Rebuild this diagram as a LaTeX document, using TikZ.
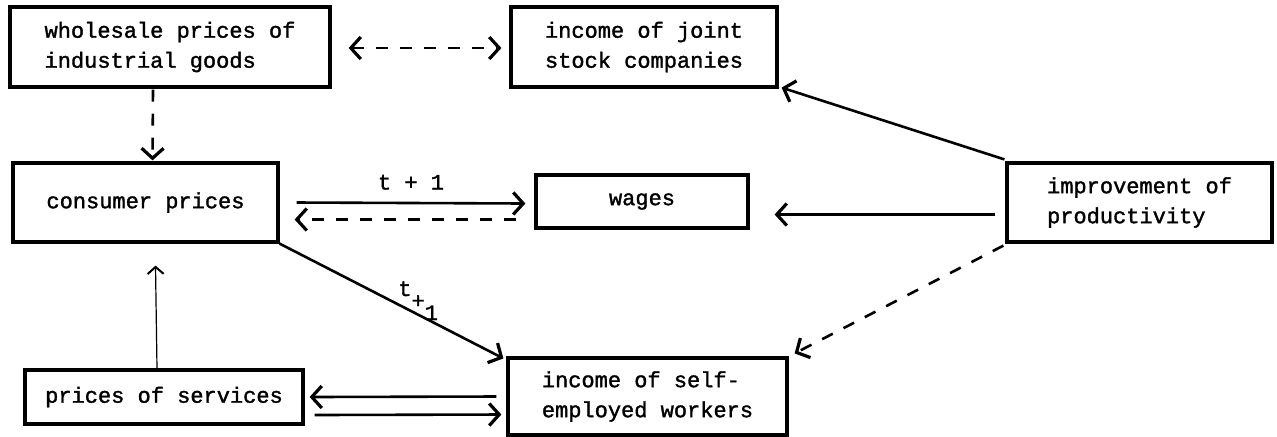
\documentclass[tikz,border=0pt]{standalone}
\usepackage{fontspec}
\setmonofont[FakeBold=1.5]{Liberation Mono}
\usetikzlibrary{arrows.meta,calc}
\tikzset{
  box/.style={draw, line width=1.6pt, inner sep=0pt, align=left,
    font=\ttfamily\fontsize{11}{15}\selectfont},
  conn/.style={line width=1.3pt, -{Straight Barb[length=5pt,width=11pt,line width=1.6pt]}},
  biconn/.style={line width=1.3pt, {Straight Barb[length=5pt,width=11pt,line width=1.6pt]}-{Straight Barb[length=5pt,width=11pt,line width=1.6pt]}},
  thinconn/.style={line width=0.6pt, -{Straight Barb[length=3.5pt,width=8pt,line width=1pt]}},
  dashline/.style={dash pattern=on 6pt off 6pt},
  lbl/.style={font=\ttfamily\fontsize{11}{15}\selectfont, inner sep=0pt}
}
\begin{document}
\begin{tikzpicture}[x=0.5pt,y=-0.5pt]
\useasboundingbox (0,0) rectangle (1277,436);
\node[box, minimum width=160pt, minimum height=40pt] (ws) at (170,47) {wholesale prices of\\industrial goods};
\node[box, minimum width=133pt, minimum height=40pt] (js) at (644,47) {income of joint\\stock companies};
\node[box, minimum width=132.5pt, minimum height=39.5pt] (cp) at (145.5,202.5) {consumer prices};
\node[box, minimum width=106pt, minimum height=26.5pt] (wg) at (642,201.5) {wages};
\node[box, minimum width=132.5pt, minimum height=39.5pt] (ip) at (1139.5,202.5) {improvement of\\productivity};
\node[box, minimum width=139pt, minimum height=27pt] (ps) at (164,397) {prices of services};
\node[box, minimum width=139.5pt, minimum height=38.5pt] (se) at (647.5,396.5) {income of self-\\employed workers};

% wholesale <-> joint stock
\draw[biconn, dashline] ($(ws.east)+(17,1)$) -- ($(js.west)+(-8,1)$);
% wholesale -> consumer prices
\draw[conn, dashline] ($(ws.south)+(-17,1)$) -- ($(cp.north)+(7,-1)$);
% consumer prices -> wages
\draw[conn] ($(cp.east)+(17,0)$) -- node[lbl, above=6pt] (l1) {t + 1} ($(wg.west)+(-9,2)$);
% wages -> consumer prices (dashed)
\draw[conn, dashline] ($(wg.west)+(-18,18)$) -- ($(cp.east)+(15,17)$);
% improvement -> wages
\draw[conn] ($(ip.west)+(-10,12)$) -- ($(wg.east)+(25,13)$);
% improvement -> joint stock
\draw[conn] ($(ip.north west)+(-1,-2)$) -- ($(js.south east)+(3,-1)$);
% improvement -> self-employed
\draw[conn, dashline] ($(ip.south west)+(-2,2)$) -- ($(se.north east)+(6,-3)$);
% consumer prices -> self-employed
\draw[conn] (cp.south east) -- ($(se.north west)+(-3,2)$);
\node[lbl, anchor=base west] (l2) at (398,296) {t\raisebox{-6pt}{+\raisebox{-6pt}{1}}};
% services -> consumer prices
\draw[thinconn] ($(ps.north)+(-7,0)$) -- ($(cp.south)+(10,22)$);
% self-employed -> services
\draw[conn] ($(se.west)+(-10,0)$) -- ($(ps.east)+(5,0)$);
% services -> self-employed
\draw[conn] ($(ps.east)+(10,18)$) -- ($(se.west)+(-5,18)$);
\end{tikzpicture}
\end{document}
